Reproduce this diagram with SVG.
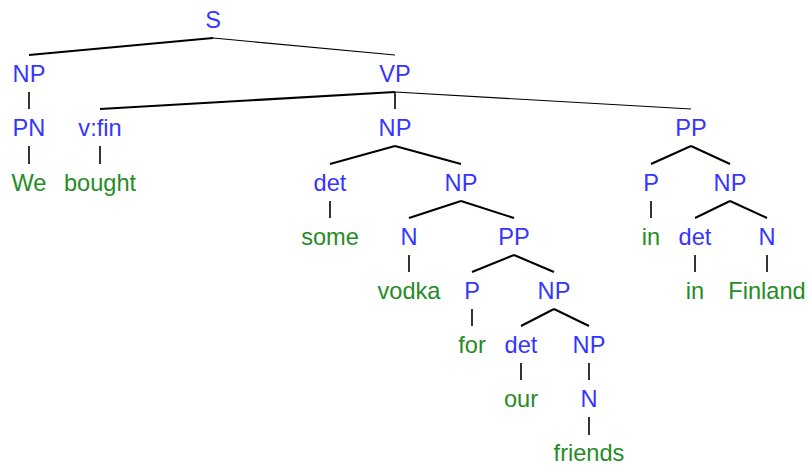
<svg xmlns="http://www.w3.org/2000/svg" width="809" height="468" viewBox="0 0 809 468">
  <style>
    text { font-family: "Liberation Sans", Arial, sans-serif; font-size: 23.6px; text-anchor: middle; }
    .cat { fill: #3535ff; }
    .word { fill: #268c26; }
    #edges line { stroke: #000; stroke-width: 2; stroke-linecap: butt; }
    #edges line.v { stroke-width: 1.6; }
    #edges line.thin { stroke-width: 1.2; }
  </style>
  <rect width="809" height="468" fill="#fff"/>

  <!-- tree branches -->
  <g id="edges">
    <line x1="213" y1="38" x2="29" y2="55"/>
    <line class="thin" x1="213" y1="38" x2="395" y2="55"/>
    <line class="v" x1="29" y1="92" x2="29" y2="109"/>
    <line class="v" x1="29" y1="146" x2="29" y2="164"/>
    <line x1="395" y1="92" x2="100" y2="109"/>
    <line class="v" x1="395" y1="92" x2="395" y2="109"/>
    <line class="thin" x1="395" y1="92" x2="691" y2="109"/>
    <line class="v" x1="100" y1="146" x2="100" y2="164"/>
    <line x1="395" y1="146" x2="330" y2="164"/>
    <line x1="395" y1="146" x2="461" y2="164"/>
    <line class="v" x1="330" y1="201" x2="330" y2="218"/>
    <line x1="461" y1="201" x2="409" y2="218"/>
    <line x1="461" y1="201" x2="514" y2="218"/>
    <line class="v" x1="409" y1="255" x2="409" y2="272"/>
    <line x1="514" y1="255" x2="472" y2="272"/>
    <line x1="514" y1="255" x2="554" y2="272"/>
    <line class="v" x1="472" y1="309" x2="472" y2="326"/>
    <line x1="554" y1="309" x2="521" y2="326"/>
    <line x1="554" y1="309" x2="589" y2="326"/>
    <line class="v" x1="521" y1="363" x2="521" y2="380"/>
    <line class="v" x1="589" y1="363" x2="589" y2="380"/>
    <line class="v" x1="589" y1="417" x2="589" y2="435"/>
    <line x1="691" y1="146" x2="651" y2="164"/>
    <line x1="691" y1="146" x2="730" y2="164"/>
    <line class="v" x1="651" y1="201" x2="651" y2="218"/>
    <line x1="730" y1="201" x2="695" y2="218"/>
    <line x1="730" y1="201" x2="767" y2="218"/>
    <line class="v" x1="695" y1="255" x2="695" y2="272"/>
    <line class="v" x1="767" y1="255" x2="767" y2="272"/>
  </g>

  <!-- category and word nodes -->
  <g id="S"><text class="cat" x="213" y="28">S</text></g>
  <g id="NP1"><text class="cat" x="29" y="82">NP</text></g>
  <g id="PN"><text class="cat" x="29" y="136">PN</text></g>
  <g id="w-we"><text class="word" x="29" y="191">We</text></g>
  <g id="VP"><text class="cat" x="395" y="82">VP</text></g>
  <g id="vfin"><text class="cat" x="100" y="136">v:fin</text></g>
  <g id="w-bought"><text class="word" x="100" y="191">bought</text></g>
  <g id="NP2"><text class="cat" x="395" y="136">NP</text></g>
  <g id="det1"><text class="cat" x="330" y="191">det</text></g>
  <g id="w-some"><text class="word" x="330" y="245">some</text></g>
  <g id="NP3"><text class="cat" x="461" y="191">NP</text></g>
  <g id="N1"><text class="cat" x="409" y="245">N</text></g>
  <g id="w-vodka"><text class="word" x="409" y="299">vodka</text></g>
  <g id="PP1"><text class="cat" x="514" y="245">PP</text></g>
  <g id="P1"><text class="cat" x="472" y="299">P</text></g>
  <g id="w-for"><text class="word" x="472" y="353">for</text></g>
  <g id="NP4"><text class="cat" x="554" y="299">NP</text></g>
  <g id="det2"><text class="cat" x="521" y="353">det</text></g>
  <g id="w-our"><text class="word" x="521" y="407">our</text></g>
  <g id="NP5"><text class="cat" x="589" y="353">NP</text></g>
  <g id="N2"><text class="cat" x="589" y="407">N</text></g>
  <g id="w-friends"><text class="word" x="589" y="461">friends</text></g>
  <g id="PP2"><text class="cat" x="691" y="136">PP</text></g>
  <g id="P2"><text class="cat" x="651" y="191">P</text></g>
  <g id="w-in1"><text class="word" x="651" y="245">in</text></g>
  <g id="NP6"><text class="cat" x="730" y="191">NP</text></g>
  <g id="det3"><text class="cat" x="695" y="245">det</text></g>
  <g id="w-in2"><text class="word" x="695" y="299">in</text></g>
  <g id="N3"><text class="cat" x="767" y="245">N</text></g>
  <g id="w-finland"><text class="word" x="767" y="299">Finland</text></g>
</svg>
